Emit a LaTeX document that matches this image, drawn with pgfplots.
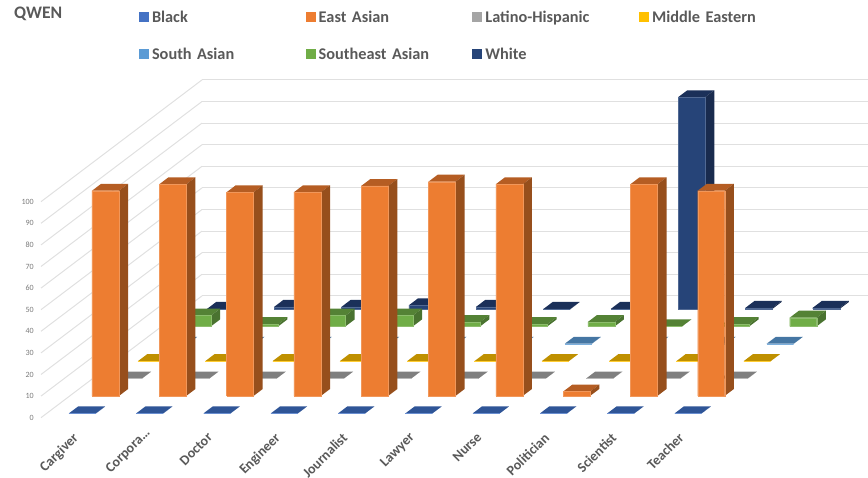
\documentclass[border=0pt]{standalone}
\usepackage{fontspec}
\setmainfont{Carlito}
\usepackage{pgfplots}
\pgfplotsset{compat=1.18}

% face colours: F front, T top, S side
\definecolor{blackF}{HTML}{4472C4}\definecolor{blackT}{HTML}{2F5597}\definecolor{blackS}{HTML}{2F5597}
\definecolor{eastF}{HTML}{ED7D31}\definecolor{eastT}{HTML}{B55D23}\definecolor{eastS}{HTML}{974F1C}
\definecolor{latinoF}{HTML}{A5A5A5}\definecolor{latinoT}{HTML}{7F7F7F}\definecolor{latinoS}{HTML}{7F7F7F}
\definecolor{middleF}{HTML}{FFC000}\definecolor{middleT}{HTML}{BF9000}\definecolor{middleS}{HTML}{BF9000}
\definecolor{southF}{HTML}{5B9BD5}\definecolor{southT}{HTML}{4576A3}\definecolor{southS}{HTML}{4576A3}
\definecolor{seastF}{HTML}{70AD47}\definecolor{seastT}{HTML}{548235}\definecolor{seastS}{HTML}{4A7330}
\definecolor{whiteF}{HTML}{264478}\definecolor{whiteT}{HTML}{1B3059}\definecolor{whiteS}{HTML}{192B4E}
\definecolor{txt}{HTML}{595959}

% one bar: category, row, value, colour prefix
\newcommand\qbar[4]{%
  \pgfmathsetmacro\xa{#1+0.33}\pgfmathsetmacro\xb{#1+0.731}%
  \pgfmathsetmacro\ya{#2+0.25}\pgfmathsetmacro\yb{#2+0.65}%
  \edef\tmp{%
    \noexpand\addplot3[forget plot,no marks,draw=none,fill=#4T] coordinates {(\xa,\ya,#3) (\xb,\ya,#3) (\xb,\yb,#3) (\xa,\yb,#3) (\xa,\ya,#3)};
    \noexpand\addplot3[forget plot,no marks,draw=none,fill=#4S] coordinates {(\xb,\ya,0) (\xb,\yb,0) (\xb,\yb,#3) (\xb,\ya,#3) (\xb,\ya,0)};
    \noexpand\addplot3[forget plot,no marks,draw=#4F!80!white,line width=0.3pt,fill=#4F] coordinates {(\xa,\ya,0) (\xb,\ya,0) (\xb,\ya,#3) (\xa,\ya,#3) (\xa,\ya,0)};
  }\tmp}
% one series: row, colour prefix, category/value pairs
\newcommand\qrow[3]{\foreach \c/\v in {#3} {\edef\go{\noexpand\qbar{\c}{#1}{\v}{#2}}\go}}

\begin{document}
\begin{tikzpicture}
\path[use as bounding box] (0pt,0pt) rectangle (868pt,478pt);
\node[anchor=west,inner sep=0pt,text=txt,font=\fontsize{17.6}{20}\selectfont\bfseries] at (14pt,464pt) {QWEN};
\begin{axis}[
  at={(41pt,60.3pt)}, anchor=origin,
  x={(67.3pt,0pt)}, y={(23pt,17.4pt)}, z={(0pt,2.16pt)},
  xmin=0, xmax=9.9, ymin=0, ymax=7, zmin=0, zmax=100,
  clip=false,
  axis line style={draw=none},
  major tick length=0pt,
  xtick={0.5,1.5,2.5,3.5,4.5,5.5,6.5,7.5,8.5,9.5},
  xticklabels={Cargiver,Corpora…\kern-7pt,Doctor,Engineer,Journalist,Lawyer,Nurse,Politician,Scientist,Teacher},
  ytick=\empty,
  ztick={0,10,20,30,40,50,60,70,80,90,100},
  zmajorgrids=true,
  grid style={draw=black!12,line width=1pt},
  /pgf/number format/assume math mode=true,
  x tick label style={rotate=45,anchor=north east,inner sep=0pt,xshift=-11.7pt,yshift=-8pt,text=txt,
    font=\fontsize{14}{16}\selectfont\bfseries},
  z tick label style={anchor=east,inner sep=0pt,xshift=-7pt,text=black!52,font=\fontsize{8}{10}\selectfont},
  legend image code/.code={\path[#1,draw=none] (0pt,-5pt) rectangle (10pt,5pt);},
  legend columns=4,
  legend cell align=left,
  legend style={at={(0.1185,1.204)},anchor=north west,draw=none,fill=none,inner sep=0pt,outer sep=0pt,
    font=\fontsize{16.3}{18}\selectfont\bfseries,text=txt,row sep=26pt,
    nodes={inner sep=0pt,text width=153.7pt,align=left,text depth=0pt},
    /tikz/every odd column/.append style={column sep=3pt}},
]
\addlegendimage{fill=blackF}\addlegendentry{Black}
\addlegendimage{fill=eastF}\addlegendentry{East Asian}
\addlegendimage{fill=latinoF}\addlegendentry{Latino-Hispanic}
\addlegendimage{fill=middleF}\addlegendentry{Middle Eastern}
\addlegendimage{fill=southF}\addlegendentry{South Asian}
\addlegendimage{fill=seastF}\addlegendentry{Southeast Asian}
\addlegendimage{fill=whiteF}\addlegendentry{White}
% back row first so that front rows cover it
\qrow{6}{white}{0/0,1/1,2/1,3/1.7,4/1,5/0,6/0,7/98,8/0.5,9/0.5}
\qrow{5}{seast}{0/5,1/1,2/5,3/5,4/2,5/1,6/2,7/0,8/1,9/4}
\qrow{4}{south}{0/0,1/0,2/0,3/0,4/0,5/0,6/0,7/0,8/0,9/0}
\qrow{3}{middle}{0/0,1/0,2/0,3/0,4/0,5/0,6/0,7/0,8/0,9/0}
\qrow{2}{latino}{0/0,1/0,2/0,3/0,4/0,5/0,6/0,7/0,8/0,9/0}
\qrow{1}{east}{0/95,1/98,2/94.3,3/94.3,4/97.2,5/99.2,6/98,7/2,8/98,9/95}
\qrow{0}{black}{0/0,1/0,2/0,3/0,4/0,5/0,6/0,7/0,8/0,9/0}
\end{axis}
\end{tikzpicture}
\end{document}
